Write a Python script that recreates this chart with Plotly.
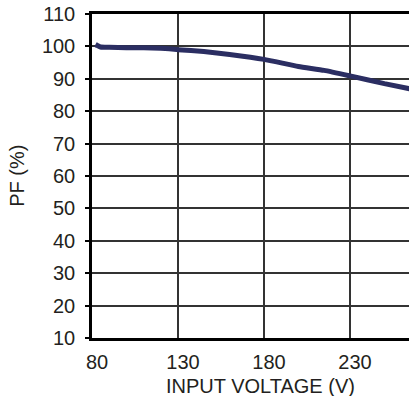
import plotly.graph_objects as go

input_voltage = [82, 83, 85, 90, 100, 110, 120, 130, 145, 160, 180, 200, 215, 230, 250, 265]
pf_percent = [100.6, 100.3, 99.8, 99.7, 99.6, 99.6, 99.4, 99.0, 98.4, 97.5, 96.0, 93.8, 92.6, 90.9, 88.5, 86.9]

x_ticks = [80, 130, 180, 230]
y_ticks = [10, 20, 30, 40, 50, 60, 70, 80, 90, 100, 110]

FONT = "Liberation Sans, Arial, sans-serif"
TXT = "#231f20"
FS = 20

fig = go.Figure()
fig.add_trace(go.Scatter(
    x=input_voltage, y=pf_percent, mode="lines",
    line=dict(color="#2b2e62", width=5, shape="spline", smoothing=0.5),
    hoverinfo="skip", showlegend=False,
))

fig.update_layout(
    width=409, height=396,
    margin=dict(l=92, r=0, t=14, b=58),
    paper_bgcolor="white", plot_bgcolor="white",
    font=dict(family=FONT, size=FS, color=TXT),
    showlegend=False,
    xaxis=dict(
        range=[80, 264.3], tickvals=x_ticks, ticktext=[str(v) for v in x_ticks],
        showgrid=True, gridcolor="#333333", gridwidth=1.5,
        showline=True, linecolor="black", linewidth=2.5, mirror=True,
        ticks="", zeroline=False, ticklabelstandoff=4, ticklabelshift=5,
        tickfont=dict(family=FONT, size=FS, color=TXT),
    ),
    yaxis=dict(
        range=[10, 110], tickvals=y_ticks, ticktext=[str(v) for v in y_ticks],
        showgrid=True, gridcolor="#333333", gridwidth=1.5,
        showline=True, linecolor="black", linewidth=2.5, mirror=False,
        ticks="outside", ticklen=4, tickwidth=1.5, tickcolor="black",
        zeroline=False, ticklabelstandoff=6,
        tickfont=dict(family=FONT, size=FS, color=TXT),
    ),
    annotations=[
        dict(text="INPUT VOLTAGE (V)", xref="paper", yref="paper",
             x=0.533, y=-0.148, xanchor="center", yanchor="middle",
             showarrow=False, font=dict(family=FONT, size=FS, color=TXT)),
        dict(text="PF (%)", xref="paper", yref="paper",
             x=-0.237, y=0.5, xanchor="center", yanchor="middle", textangle=-90,
             showarrow=False, font=dict(family=FONT, size=FS, color=TXT)),
    ],
)

fig.write_html("out.html")
